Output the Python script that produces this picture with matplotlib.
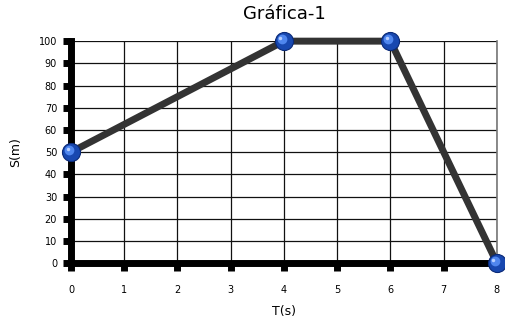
import matplotlib.pyplot as plt
import matplotlib.transforms as mtransforms

t = [0, 4, 6, 8]
s = [50, 100, 100, 0]
xticks = [0, 1, 2, 3, 4, 5, 6, 7, 8]
yticks = [0, 10, 20, 30, 40, 50, 60, 70, 80, 90, 100]

fig = plt.figure(figsize=(5.05, 3.24), dpi=100)
ax = fig.add_axes([0.1406, 0.188, 0.8434, 0.685])

ax.set_xlim(0, 8)
ax.set_ylim(0, 100)
ax.set_xticks(xticks)
ax.set_yticks(yticks)
ax.grid(True, color="#111111", linewidth=0.9)
ax.set_axisbelow(True)

for side in ["left", "bottom"]:
    ax.spines[side].set_linewidth(5)
    ax.spines[side].set_color("black")
ax.spines["right"].set_color("#777777")
ax.spines["right"].set_linewidth(1.2)
ax.spines["top"].set_visible(False)

ax.tick_params(axis="both", direction="out", length=6, width=5, color="black",
               labelsize=7)
ax.tick_params(axis="x", pad=10)
ax.tick_params(axis="y", pad=4)

ax.plot(t, s, color="#333333", linewidth=5, zorder=3, clip_on=False)
ax.plot(t, s, linestyle="none", marker="o", markersize=13, markerfacecolor="#1848b0",
        markeredgecolor="#0a2a78", markeredgewidth=0.8, zorder=4, clip_on=False)
hl = mtransforms.offset_copy(ax.transData, fig=fig, x=-1.5, y=1.5, units="points")
ax.plot(t, s, linestyle="none", marker="o", markersize=7, markerfacecolor="#4f86ee",
        markeredgewidth=0, zorder=5, clip_on=False, transform=hl)
hl2 = mtransforms.offset_copy(ax.transData, fig=fig, x=-2.5, y=2.5, units="points")
ax.plot(t, s, linestyle="none", marker="o", markersize=2.5, markerfacecolor="#b8d0ff",
        markeredgewidth=0, zorder=6, clip_on=False, transform=hl2)

ax.set_title("Gráfica-1", fontsize=13, pad=16)
ax.set_xlabel("T(s)", fontsize=9, labelpad=7)
ax.set_ylabel("S(m)", fontsize=9, labelpad=12)

fig.savefig("out.png", dpi=100)
